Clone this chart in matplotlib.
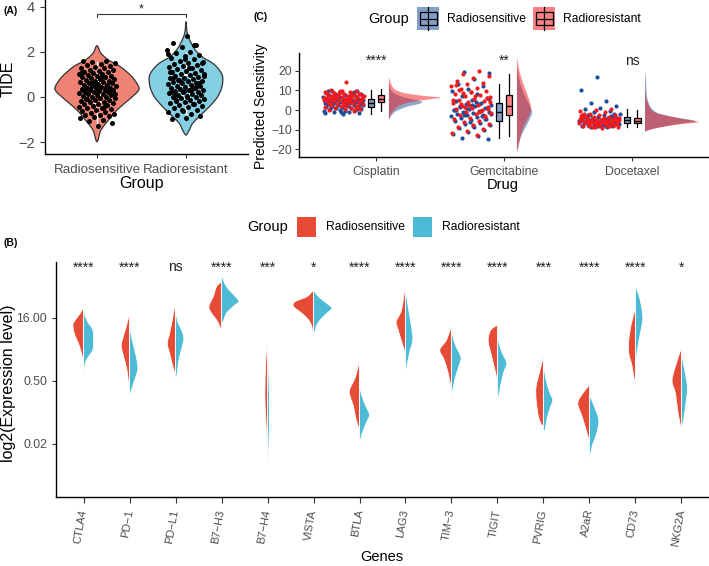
import numpy as np
import matplotlib
matplotlib.use('Agg')
import matplotlib.pyplot as plt
from matplotlib.path import Path
from matplotlib.patches import PathPatch, Rectangle
from matplotlib.lines import Line2D
from matplotlib.colors import to_rgba

plt.rcParams['font.family'] = ['Liberation Sans', 'DejaVu Sans']

# ------------------------------------------------------------------ data
groups = ['Radiosensitive', 'Radioresistant']

# Panel A: TIDE scores (read from the jittered points)
tide_sens = [1.62, 1.58, 1.55, 1.5, 1.47, 1.42, 1.38, 1.35, 1.3, 1.27, 1.22, 1.2, 1.16,
             1.12, 1.1, 1.06, 1.03, 1.0, 0.97, 0.95, 0.92, 0.9, 0.87, 0.84, 0.82, 0.79,
             0.76, 0.73, 0.71, 0.68, 0.65, 0.62, 0.6, 0.57, 0.55, 0.52, 0.5, 0.47, 0.45,
             0.42, 0.4, 0.38, 0.35, 0.33, 0.31, 0.29, 0.27, 0.24, 0.22, 0.2, 0.17, 0.15,
             0.12, 0.1, 0.07, 0.05, 0.02, 0.0, -0.03, -0.06, -0.09, -0.12, -0.15, -0.18,
             -0.21, -0.24, -0.27, -0.3, -0.33, -0.36, -0.4, -0.43, -0.47, -0.5, -0.54,
             -0.58, -0.62, -0.66, -0.7, -0.74, -0.78, -0.82, -0.86, -0.9, -0.95, -1.0,
             -1.07, -1.15, -1.3, 0.3, 0.45, 0.6, 0.15, 0.85, -0.1, 0.25, 0.55, 1.05, -0.45, 0.35]
tide_resist = [2.7, 2.42, 2.3, 2.2, 2.1, 2.02, 1.95, 1.88, 1.8, 1.74, 1.68, 1.62, 1.57, 1.52,
               1.47, 1.42, 1.38, 1.33, 1.28, 1.24, 1.2, 1.16, 1.12, 1.08, 1.04, 1.0, 0.97,
               0.93, 0.9, 0.86, 0.83, 0.8, 0.76, 0.73, 0.7, 0.67, 0.63, 0.6, 0.57, 0.54, 0.5,
               0.47, 0.44, 0.41, 0.38, 0.35, 0.32, 0.29, 0.26, 0.23, 0.2, 0.17, 0.14, 0.11,
               0.08, 0.05, 0.02, -0.01, -0.04, -0.08, -0.12, -0.16, -0.2, -0.24, -0.28, -0.32,
               -0.36, -0.41, -0.46, -0.51, -0.56, -0.62, -0.68, -0.74, -0.8, -0.86, -0.92,
               -0.98, 0.4, 0.65, 0.95, 1.3, 0.1, 0.55, 0.25, 1.1, -0.3, 0.75, 1.5, 0.0, 0.85,
               0.45, -0.6, 1.9, 0.3, -0.15, 0.6, 1.7, 0.2, 2.33]
# violin outlines (value, density)
tide_violin_sens_y = [2.28, 1.94, 1.64, 1.35, 0.90, 0.46, 0.24, -0.13, -0.58, -1.02, -1.47, -1.99]
tide_violin_sens_d = [0, 12, 35, 70, 105, 125, 122, 95, 60, 35, 12, 0]
tide_violin_res_y = [3.35, 2.9, 2.61, 2.39, 2.09, 1.79, 1.50, 1.20, 0.90, 0.46, 0.01, -0.43,
                     -0.87, -1.17, -1.47, -1.69]
tide_violin_res_d = [0, 3, 9, 16, 28, 48, 80, 100, 110, 108, 95, 70, 40, 20, 10, 0]
# box stats: q1, median, q3, lower whisker, upper whisker
tide_box_sens = [-0.25, 0.31, 0.71, -1.17, 1.57]
tide_box_res = [-0.06, 0.43, 0.98, -0.75, 1.95]
tide_sig = '*'

# Panel B: expression profiles (log2 value, density) per gene
genes = ['CTLA4', 'PD\u22121', 'PD\u2212L1', 'B7\u2212H3', 'B7\u2212H4', 'VISTA', 'BTLA',
         'LAG3', 'TIM\u22123', 'TIGIT', 'PVRIG', 'A2aR', 'CD73', 'NKG2A']
gene_sig = ['****', '****', 'ns', '****', '***', '*', '****', '****', '****', '****',
            '***', '****', '****', '*']
expr_sens = [
    [(4.85, 0), (4.37, 10), (3.84, 25), (3.44, 32), (2.78, 28), (2.25, 20), (1.72, 12), (0.93, 4), (0.54, 0)],
    [(4.42, 0), (3.31, 10), (2.25, 22), (1.72, 25), (0.93, 18), (-0.13, 8), (-1.19, 3), (-1.45, 0)],
    [(5.30, 0), (4.11, 8), (2.78, 18), (1.99, 25), (1.20, 18), (0.14, 8), (-0.52, 0)],
    [(6.88, 0), (6.49, 15), (5.69, 25), (4.90, 38), (4.37, 30), (3.84, 15), (3.31, 5), (2.92, 0)],
    [(2.52, 0), (0.67, 5), (-1.98, 8), (-3.57, 6), (-5.15, 3), (-6.48, 0)],
    [(6.22, 0), (5.69, 20), (5.30, 55), (4.90, 60), (4.37, 35), (3.84, 15), (3.31, 5), (2.78, 3), (2.57, 0)],
    [(0.67, 0), (-0.66, 12), (-1.71, 30), (-2.24, 28), (-3.04, 18), (-4.10, 10), (-4.89, 0)],
    [(6.62, 0), (4.64, 12), (3.71, 28), (3.05, 22), (1.99, 10), (1.20, 0)],
    [(3.37, 0), (2.25, 15), (1.46, 35), (0.67, 22), (-0.39, 10), (-1.71, 0)],
    [(3.44, 0), (3.05, 20), (2.25, 28), (1.20, 20), (0.14, 10), (-0.66, 3), (-0.92, 0)],
    [(0.93, 0), (-0.13, 10), (-1.45, 22), (-2.51, 22), (-3.83, 15), (-4.49, 5), (-4.54, 0)],
    [(-1.32, 0), (-1.98, 20), (-2.77, 35), (-3.83, 22), (-4.89, 10), (-5.81, 0)],
    [(4.77, 0), (3.58, 12), (2.25, 20), (1.20, 20), (0.14, 10), (-1.45, 0)],
    [(1.59, 0), (0.67, 12), (-0.92, 28), (-1.98, 18), (-3.57, 10), (-4.89, 0)],
]
expr_resist = [
    [(4.50, 0), (3.71, 12), (3.05, 28), (2.25, 30), (1.46, 28), (0.93, 15), (0.40, 5), (-0.66, 0)],
    [(3.31, 0), (2.25, 8), (1.20, 18), (0.14, 25), (-0.39, 22), (-1.19, 12), (-1.98, 3), (-2.11, 0)],
    [(5.16, 0), (3.84, 5), (3.05, 18), (2.39, 25), (1.72, 20), (0.67, 10), (-0.39, 5), (-1.05, 0)],
    [(7.41, 0), (6.49, 15), (5.69, 42), (5.30, 52), (4.90, 35), (4.37, 15), (3.71, 5), (3.58, 0)],
    [(1.46, 0), (-0.66, 4), (-3.30, 6), (-5.15, 5), (-7.27, 2), (-8.33, 0)],
    [(6.22, 0), (5.69, 15), (5.16, 40), (4.77, 55), (4.37, 40), (3.84, 20), (3.31, 8), (2.39, 0)],
    [(-1.05, 0), (-1.98, 5), (-3.04, 20), (-3.70, 30), (-4.36, 20), (-5.42, 5), (-6.48, 0)],
    [(6.35, 0), (4.90, 8), (3.31, 18), (2.25, 22), (1.20, 12), (-0.39, 0)],
    [(3.05, 0), (1.99, 10), (0.93, 28), (0.40, 25), (-0.92, 10), (-2.38, 0)],
    [(2.78, 0), (1.99, 5), (1.20, 15), (0.40, 28), (-0.39, 18), (-1.98, 5), (-2.90, 0)],
    [(0.40, 0), (-0.92, 8), (-1.98, 20), (-2.51, 28), (-3.17, 20), (-4.10, 10), (-4.89, 5), (-4.94, 0)],
    [(-2.11, 0), (-3.04, 15), (-4.10, 28), (-5.15, 22), (-6.21, 8), (-7.40, 0)],
    [(6.49, 0), (5.69, 12), (4.64, 20), (3.84, 22), (2.78, 15), (1.46, 6), (0.14, 0)],
    [(1.20, 0), (0.14, 8), (-1.45, 18), (-2.51, 15), (-3.83, 8), (-5.02, 0)],
]
expr_ticks_log2 = [4, -1, -6]

# Panel C: predicted drug sensitivity
drugs = ['Cisplatin', 'Gemcitabine', 'Docetaxel']
drug_sig = ['****', '**', 'ns']
cis_sens = [9.8, 9.5, 9.2, 8.9, 8.6, 8.3, 8.0, 7.7, 7.4, 7.1, 6.8, 6.6, 6.3, 6.0, 5.8, 5.6, 5.4,
            5.2, 5.0, 4.8, 4.6, 4.4, 4.2, 4.0, 3.8, 3.7, 3.5, 3.3, 3.1, 2.9, 2.7, 2.5, 2.3, 2.1,
            1.9, 1.7, 1.5, 1.3, 1.1, 0.9, 0.7, 0.5, 0.3, 0.1, -0.2, -0.5, -0.8, -1.1, -1.4, -1.8,
            9.9, 8.1, 6.4, 4.9, 3.4, 2.0, 0.6, -0.9, -1.6, 7.3, 5.3, 1.2, -0.3, 3.9, 9.0]
cis_res = [14.4, 10.2, 9.9, 9.6, 9.3, 9.0, 8.7, 8.4, 8.1, 7.9, 7.7, 7.5, 7.3, 7.1, 6.9, 6.7, 6.5,
           6.3, 6.1, 5.9, 5.7, 5.5, 5.4, 5.3, 5.1, 4.9, 4.7, 4.5, 4.3, 4.1, 3.9, 3.6, 3.3, 3.0,
           2.7, 2.4, 2.1, 1.8, 1.5, 1.2, 0.9, 0.6, 0.3, 0.0, -0.4, 8.8, 7.2, 6.0, 5.0, 2.0,
           9.8, 8.5, 7.6, 6.6, 5.6, 4.4, 3.2, 1.0, 9.4, 6.2, 4.0, 7.0, 8.2, 2.6, 5.8]
gem_sens = [19.5, 18.8, 16.0, 13.5, 12.0, 10.8, 9.5, 8.3, 7.2, 6.2, 5.3, 4.5, 3.8, 3.2, 2.6, 2.0,
            1.5, 1.0, 0.5, 0.0, -0.4, -0.8, -1.2, -1.6, -2.0, -2.4, -2.8, -3.2, -3.7, -4.2, -4.7,
            -5.2, -5.8, -6.4, -7.0, -7.7, -8.5, -9.3, -10.2, -11.0, -12.0, -13.0, -14.2, -14.8,
            2.3, -0.2, -3.0, 0.8, -1.8, 4.0, 1.8, -4.5, -6.0, 0.2, 3.0, -2.6, 5.8, -8.0]
gem_res = [19.8, 18.5, 17.5, 16.2, 15.0, 14.0, 13.0, 12.2, 11.4, 10.6, 9.8, 9.0, 8.3, 7.6, 7.0,
           6.4, 5.8, 5.2, 4.6, 4.0, 3.4, 2.8, 2.2, 1.6, 1.0, 0.4, -0.2, -0.8, -1.4, -2.0, -2.6,
           -3.2, -3.9, -4.6, -5.4, -6.2, -7.0, -7.8, -8.6, -9.5, -10.5, -11.5, -12.5, 3.0, 6.0,
           9.4, 12.6, -0.5, 1.3, 4.3, 7.3, 10.2, -3.6, 2.5, 5.0, -1.0, 8.8, 0.6]
doc_sens = [17.0, 10.0, 4.7, 3.5, 2.2, 1.0, 0.3, -0.5, -1.2, -1.8, -2.3, -2.8, -3.2, -3.6, -3.9,
            -4.2, -4.5, -4.7, -4.9, -5.1, -5.3, -5.5, -5.7, -5.9, -6.1, -6.3, -6.5, -6.7, -6.9,
            -7.1, -7.3, -7.5, -7.7, -7.9, -8.1, -8.3, -8.6, -8.9, -4.0, -5.0, -6.0, -3.0, -7.0,
            -5.6, -4.4, -6.6, -2.0, -8.0, -3.4, -5.2, -4.8, -6.2, -7.4, -5.4, -3.8, -6.8, -4.6,
            -8.4, -2.6, -5.8]
doc_res = [0.5, 0.0, -0.6, -1.2, -1.8, -2.3, -2.8, -3.2, -3.6, -3.9, -4.2, -4.4, -4.6, -4.8, -5.0,
           -5.2, -5.4, -5.5, -5.7, -5.9, -6.1, -6.3, -6.5, -6.7, -6.9, -7.1, -7.4, -7.7, -8.0,
           -8.3, -8.6, -8.9, -9.1, -4.1, -5.3, -6.0, -3.0, -7.0, -5.6, -4.7, -6.4, -2.0, -8.2,
           -3.4, -5.1, -4.3, -6.8, -5.8, -7.6, -2.5, -4.9, -6.2, -7.2, -5.0, -3.7, -6.6, -8.5,
           -4.5, -5.6, -7.9]
# box stats: q1, median, q3, lower whisker, upper whisker
drug_box_sens = [[1.7, 3.7, 5.6, -2.0, 10.2], [-5.4, -1.2, 3.4, -14.4, 13.2], [-6.8, -5.1, -3.7, -8.5, 0.5]]
drug_box_res = [[4.2, 5.4, 7.6, -0.3, 10.5], [-2.5, 2.0, 7.6, -13.2, 18.6], [-6.4, -5.4, -3.9, -8.8, 0.0]]
# density ridges (value, density)
drug_dens_sens = [
    [(13.6, 0), (9.3, 10), (6.8, 40), (5.1, 80), (4.2, 100), (3.1, 90), (1.7, 55), (-0.8, 20), (-3.4, 5), (-5.4, 0)],
    [(22.0, 0), (13.6, 10), (6.8, 25), (1.7, 40), (-1.7, 45), (-6.8, 32), (-13.6, 12), (-22.0, 0)],
    [(19.5, 0), (15.3, 3), (5.1, 8), (-0.8, 30), (-3.4, 80), (-5.1, 140), (-5.9, 150), (-7.1, 100), (-9.3, 30), (-11.0, 0)],
]
drug_dens_res = [
    [(16.9, 0), (12.7, 8), (10.2, 20), (8.5, 50), (7.1, 110), (6.4, 155), (5.4, 120), (4.2, 70), (2.5, 35), (0.0, 15), (-2.5, 5), (-5.1, 0)],
    [(27.0, 0), (22.0, 5), (15.3, 15), (8.5, 30), (3.4, 40), (0.0, 42), (-3.4, 35), (-8.5, 20), (-15.3, 8), (-21.2, 0)],
    [(11.9, 0), (5.1, 5), (-0.8, 25), (-3.4, 80), (-5.4, 140), (-6.3, 160), (-7.6, 90), (-9.8, 20), (-11.0, 0)],
]
drug_points_sens = [cis_sens, gem_sens, doc_sens]
drug_points_res = [cis_res, gem_res, doc_res]

# ------------------------------------------------------------------ style
W, H = 709, 566
GREY = '#4D4D4D'
A_FILL = ['#EE8373', '#84CFE1']
A_BOX = ['#E64B35', '#4DBBD5']
B_COL = ['#E64B35', '#4DBBD5']
C_COL = ['#1D4E9A', '#F21A1D']

fig = plt.figure(figsize=(W / 100, H / 100), dpi=100)


def ax_at(x0, y0, x1, y1):
    return fig.add_axes([x0 / W, 1 - y1 / H, (x1 - x0) / W, (y1 - y0) / H])


def ftext(x, y, s, **kw):
    fig.text(x / W, 1 - y / H, s, **kw)


def frect(x0, y0, x1, y1, **kw):
    r = Rectangle((x0 / W, 1 - y1 / H), (x1 - x0) / W, (y1 - y0) / H,
                  transform=fig.transFigure, **kw)
    fig.add_artist(r)


def fline(xs, ys, **kw):
    fig.add_artist(Line2D([x / W for x in xs], [1 - y / H for y in ys],
                          transform=fig.transFigure, **kw))


def cr_verts(pts, closed=False):
    pts = np.asarray(pts, float)
    n = len(pts)
    verts = [pts[0]]
    codes = [Path.MOVETO]
    segs = n if closed else n - 1
    for i in range(segs):
        if closed:
            p0, p1, p2, p3 = pts[(i - 1) % n], pts[i], pts[(i + 1) % n], pts[(i + 2) % n]
        else:
            p0 = pts[i - 1] if i > 0 else pts[i]
            p1, p2 = pts[i], pts[i + 1]
            p3 = pts[i + 2] if i + 2 < n else pts[i + 1]
        c1 = p1 + (p2 - p0) / 6.0
        c2 = p2 - (p3 - p1) / 6.0
        verts += [c1, c2, p2]
        codes += [Path.CURVE4] * 3
    return verts, codes


def half_shape(ax, base, prof, side, scale, **kw):
    pts = [(base + side * d * scale, y) for y, d in prof]
    verts, codes = cr_verts(pts)
    verts.append(verts[0])
    codes.append(Path.CLOSEPOLY)
    ax.add_patch(PathPatch(Path(verts, codes), **kw))


def style_axes(ax):
    for s in ['top', 'right']:
        ax.spines[s].set_visible(False)
    for s in ['left', 'bottom']:
        ax.spines[s].set_linewidth(1.0)
        ax.spines[s].set_color('black')
    ax.tick_params(length=3, width=0.8, color='#333333', labelcolor=GREY)


def golden_jitter(n, phase):
    return (np.mod(np.arange(n) * 0.6180339887 + phase, 1.0) - 0.5) * 2


def bxp_stats(vals):
    q1, med, q3, lo, hi = vals
    return dict(q1=q1, med=med, q3=q3, whislo=lo, whishi=hi, fliers=[])


# ------------------------------------------------------------------ Panel A
axA = ax_at(45, 0, 248, 154)
style_axes(axA)
axA.set_xlim(0.416, 2.697)
axA.set_ylim(-2.533, 4.31)
for i, (vy, vd) in enumerate([(tide_violin_sens_y, tide_violin_sens_d),
                              (tide_violin_res_y, tide_violin_res_d)]):
    pos = i + 1
    sc = 1 / 267.0
    right = [(pos + d * sc, y) for y, d in zip(vy, vd)]
    left = [(pos - d * sc, y) for y, d in zip(vy[::-1], vd[::-1])][1:-1]
    verts, codes = cr_verts(right + left, closed=True)
    axA.add_patch(PathPatch(Path(verts, codes), facecolor=A_FILL[i], edgecolor='#333333',
                            lw=0.9, zorder=2))
for i, st in enumerate([tide_box_sens, tide_box_res]):
    axA.bxp([bxp_stats(st)], positions=[i + 1], widths=0.07, patch_artist=True,
            showfliers=False, showcaps=False,
            boxprops=dict(facecolor=A_BOX[i], edgecolor='white', lw=1.0),
            medianprops=dict(color='white', lw=1.2),
            whiskerprops=dict(color='white', lw=1.0), zorder=3)
for i, vals in enumerate([tide_sens, tide_resist]):
    xs = (i + 1) + golden_jitter(len(vals), 0.13 + 0.4 * i) * 0.21
    axA.scatter(xs, vals, s=13, color='black', linewidths=0, zorder=4)
axA.plot([1, 1, 2, 2], [3.57, 3.69, 3.69, 3.57], color='#333333', lw=0.8, zorder=5)
axA.text(1.5, 3.75, tide_sig, ha='center', va='baseline', fontsize=9, color='#222222')
axA.set_xticks([1, 2])
axA.set_xticklabels(groups, fontsize=9.6)
axA.set_yticks([-2, 0, 2, 4])
axA.tick_params(axis='y', labelsize=10.5, length=3.5, pad=4)
axA.tick_params(axis='x', pad=4)
ftext(8, 79, 'TIDE', rotation=90, ha='center', va='center', fontsize=11.5)
ftext(142, 183, 'Group', ha='center', va='center', fontsize=11.5)
ftext(3, 11, '(A)', fontsize=7.5, fontweight='bold', va='center')

# ------------------------------------------------------------------ Panel C
axC = ax_at(299.3, 52.7, 709, 157.3)
style_axes(axC)
axC.set_xlim(0.4, 3.6)
axC.set_ylim(-24.1, 29.2)
for k in range(3):
    pos = k + 1
    base = pos + 0.1
    half_shape(axC, base, drug_dens_sens[k], 1, 1 / 384.0, facecolor=C_COL[0], alpha=0.5,
               lw=0, zorder=2)
    half_shape(axC, base, drug_dens_res[k], 1, 1 / 384.0, facecolor=C_COL[1], alpha=0.5,
               lw=0, zorder=2.1)
    for g, (pts, ph) in enumerate([(drug_points_sens[k], 0.21), (drug_points_res[k], 0.57)]):
        xs = pos - 0.255 + golden_jitter(len(pts), ph + 0.11 * k) * 0.16
        axC.scatter(xs, pts, s=9, color=C_COL[g], linewidths=0, zorder=3 + g)
    for g, st in enumerate([drug_box_sens[k], drug_box_res[k]]):
        axC.bxp([bxp_stats(st)], positions=[pos + (-0.04 if g == 0 else 0.04)], widths=0.05,
                patch_artist=True, showfliers=False, showcaps=False,
                boxprops=dict(facecolor=to_rgba(C_COL[g], 0.55), edgecolor='black', lw=0.9),
                medianprops=dict(color='black', lw=1.0),
                whiskerprops=dict(color='black', lw=0.9), zorder=5)
    axC.text(pos, 23.0, drug_sig[k], ha='center', va='baseline', fontsize=10, color='#222222')
axC.set_xticks([1, 2, 3])
axC.set_xticklabels(drugs, fontsize=8.8)
axC.set_yticks([-20, -10, 0, 10, 20])
axC.tick_params(axis='y', labelsize=8.8, pad=2.5)
ftext(261, 106, 'Predicted Sensitivity', rotation=90, ha='center', va='center', fontsize=10)
ftext(503, 185, 'Drug', ha='center', va='center', fontsize=10.5)
ftext(253, 17, '(C)', fontsize=7.5, fontweight='bold', va='center')
# legend C
ftext(368, 19, 'Group', ha='left', va='center', fontsize=10.5)
for g, (x0, tx) in enumerate([(417, 447), (533, 563)]):
    frect(x0, 7, x0 + 22, 30, facecolor=C_COL[g], alpha=0.55, lw=0)
    fline([x0 + 11, x0 + 11], [7, 30], color='black', lw=0.9)
    frect(x0 + 2.5, 12.5, x0 + 19.5, 25, facecolor='none', edgecolor='black', lw=0.9)
    fline([x0 + 2.5, x0 + 19.5], [18.5, 18.5], color='black', lw=0.9)
    ftext(tx, 19, groups[g], ha='left', va='center', fontsize=8.7)

# ------------------------------------------------------------------ Panel B
axB = ax_at(56, 262, 709, 497)
style_axes(axB)
axB.set_xlim(0.4, 14.6)
axB.set_ylim(-10.21, 8.44)
for j in range(len(genes)):
    pos = j + 1
    half_shape(axB, pos, expr_sens[j], -1, 1 / 137.85, facecolor=B_COL[0],
               edgecolor='white', lw=0.6, zorder=2)
    half_shape(axB, pos, expr_resist[j], 1, 1 / 137.85, facecolor=B_COL[1],
               edgecolor='white', lw=0.6, zorder=2)
    axB.text(pos, 7.69, gene_sig[j], ha='center', va='baseline', fontsize=10, color='#222222')
axB.set_xticks(np.arange(1, len(genes) + 1))
axB.set_xticklabels(genes, rotation=80, ha='right', va='center', rotation_mode='anchor',
                    fontsize=8)
axB.tick_params(axis='x', length=4, pad=5)
axB.set_yticks(expr_ticks_log2)
axB.set_yticklabels(['%.2f' % (2.0 ** t) for t in expr_ticks_log2], fontsize=8.8)
ftext(9, 383, 'log2(Expression level)', rotation=90, ha='center', va='center', fontsize=11.5)
ftext(382, 557, 'Genes', ha='center', va='center', fontsize=10.5)
ftext(3, 243, '(B)', fontsize=7.5, fontweight='bold', va='center')
# legend B
ftext(247, 227, 'Group', ha='left', va='center', fontsize=10.5)
for g, (x0, tx) in enumerate([(297, 326), (413, 442)]):
    frect(x0, 217, x0 + 19, 237, facecolor=B_COL[g], lw=0)
    ftext(tx, 227, groups[g], ha='left', va='center', fontsize=8.7)

fig.savefig('out.png', dpi=100)
